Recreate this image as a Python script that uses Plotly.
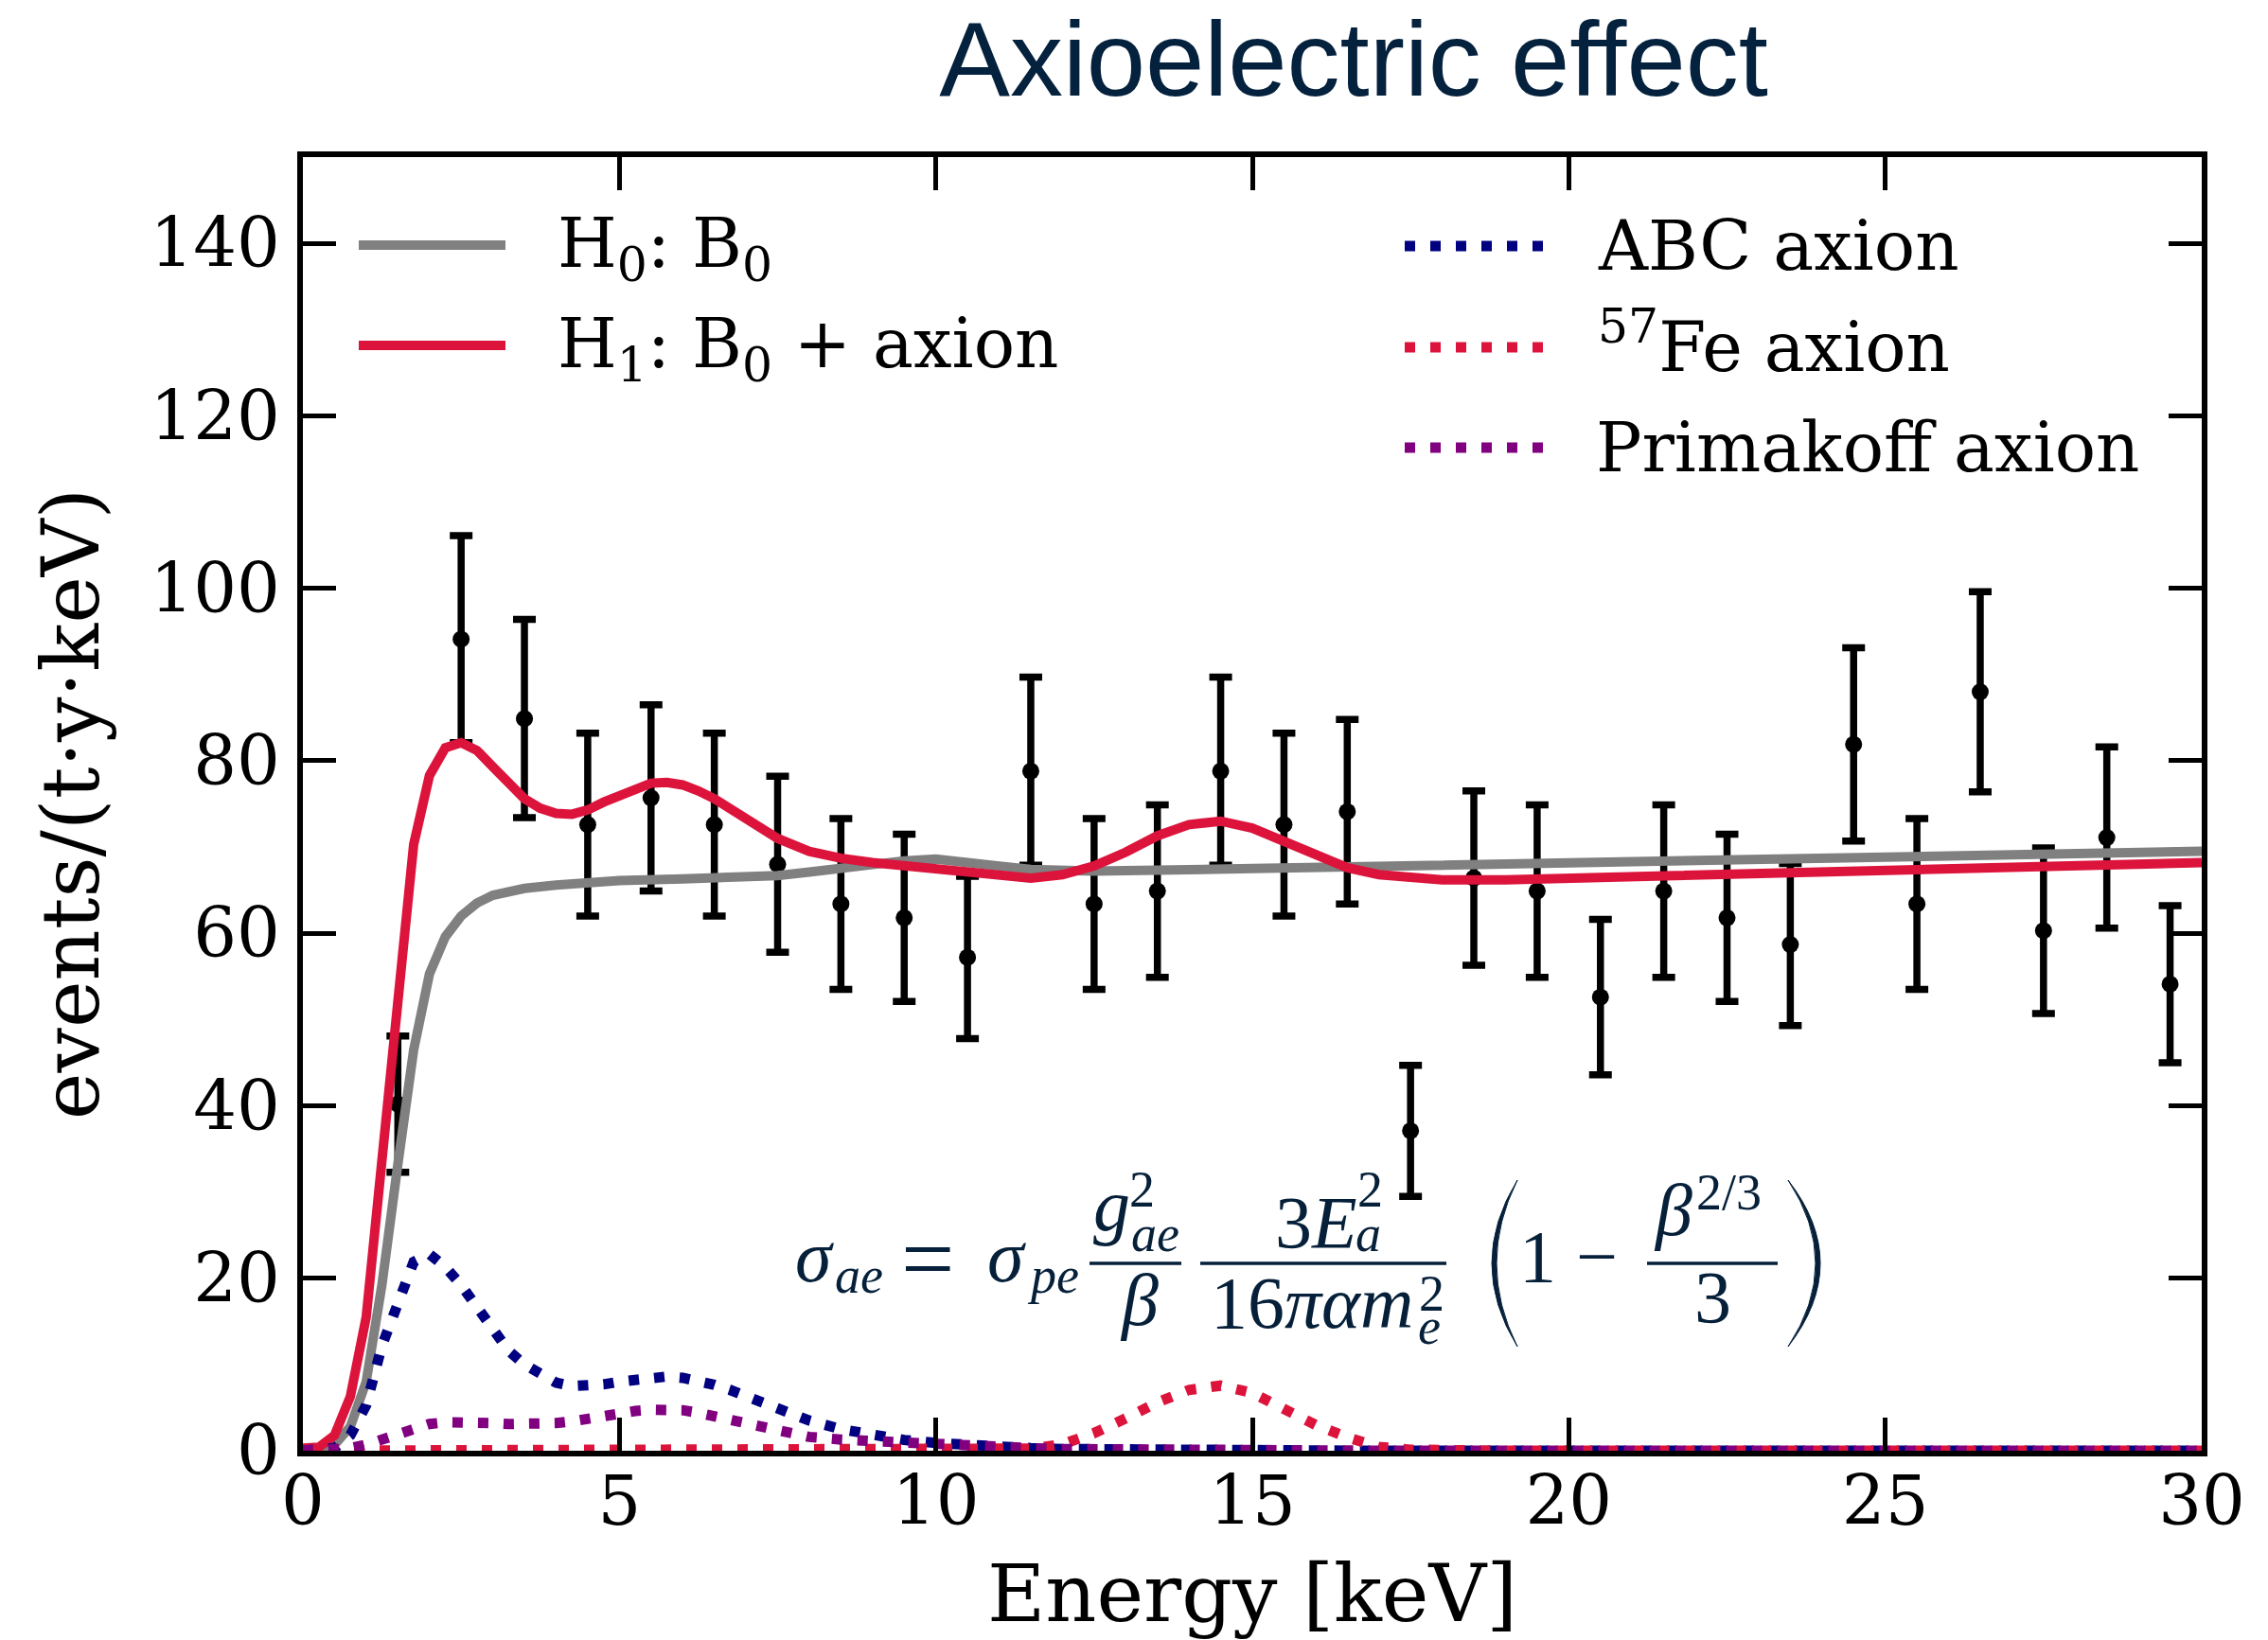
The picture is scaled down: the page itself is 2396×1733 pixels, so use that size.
import plotly.graph_objects as go

# ---------------- data ----------------
# binned event rates with statistical errors
bin_energy = [1.5, 2.5, 3.5, 4.5, 5.5, 6.5, 7.5, 8.5, 9.5, 10.5,
              11.5, 12.5, 13.5, 14.5, 15.5, 16.5, 17.5, 18.5, 19.5, 20.5,
              21.5, 22.5, 23.5, 24.5, 25.5, 26.5, 27.5, 28.5, 29.5]
bin_rate = [40.2, 94.1, 84.9, 72.6, 75.7, 72.6, 68.0, 63.4, 61.8, 57.2,
            78.8, 63.4, 64.9, 78.8, 72.6, 74.1, 37.1, 66.4, 64.9, 52.6,
            64.9, 61.8, 58.7, 81.9, 63.4, 88.0, 60.3, 71.1, 54.1]
bin_err = [7.9, 12.0, 11.5, 10.6, 10.8, 10.6, 10.2, 9.9, 9.7, 9.4,
           10.9, 9.9, 10.0, 10.9, 10.6, 10.7, 7.6, 10.1, 10.0, 9.0,
           10.0, 9.7, 9.4, 11.2, 9.9, 11.6, 9.6, 10.5, 9.1]

# background-only model (H0)
h0_energy = [0.0, 0.25, 0.5, 0.75, 1.0, 1.25, 1.5, 1.75, 2.0, 2.25,
             2.5, 2.75, 3.0, 3.5, 4.0, 4.5, 5.0, 6.0, 7.0, 7.5,
             8.0, 8.5, 9.0, 9.5, 10.0, 10.5, 11.0, 11.5, 12.0, 12.5,
             15.0, 20.0, 25.0, 30.0]
h0_rate = [0.2, 0.3, 0.7, 2.8, 8.0, 19.3, 33.2, 46.5, 55.3, 59.6,
           62.0, 63.5, 64.4, 65.2, 65.6, 65.9, 66.1, 66.3, 66.5, 66.7,
           67.1, 67.6, 68.1, 68.4, 68.6, 68.3, 67.8, 67.4, 67.2, 67.2,
           67.5, 68.2, 68.8, 69.5]

# background + axion model (H1)
h1_energy = [0.0, 0.25, 0.5, 0.75, 1.0, 1.25, 1.5, 1.75, 2.0, 2.25,
             2.5, 2.75, 3.0, 3.25, 3.5, 3.75, 4.0, 4.25, 4.5, 4.75,
             5.0, 5.25, 5.5, 5.75, 6.0, 6.25, 6.5, 7.0, 7.5, 8.0,
             8.5, 9.0, 9.5, 10.0, 10.5, 11.0, 11.5, 12.0, 12.5, 13.0,
             13.5, 14.0, 14.5, 15.0, 15.5, 16.0, 16.5, 17.0, 17.5, 18.0,
             19.0, 20.0, 25.0, 30.0]
h1_rate = [0.3, 0.4, 1.8, 6.3, 15.5, 33.5, 53.0, 70.3, 78.3, 81.5,
           82.1, 81.2, 79.3, 77.4, 75.6, 74.5, 73.9, 73.8, 74.3, 75.2,
           76.0, 76.8, 77.4, 77.5, 77.2, 76.5, 75.6, 73.3, 71.0, 69.5,
           68.7, 68.2, 67.8, 67.4, 67.0, 66.6, 66.4, 66.8, 67.8, 69.4,
           71.3, 72.6, 73.0, 72.2, 70.7, 69.0, 67.6, 66.8, 66.4, 66.2,
           66.2, 66.4, 67.3, 68.2]

# individual axion signal components
sig_energy = [0.0, 0.25, 0.5, 0.75, 1.0, 1.25, 1.5, 1.75, 2.0, 2.25,
              2.5, 2.75, 3.0, 3.25, 3.5, 3.75, 4.0, 4.25, 4.5, 4.75,
              5.0, 5.25, 5.5, 5.75, 6.0, 6.25, 6.5, 6.75, 7.0, 7.5,
              8.0, 8.5, 9.0, 9.5, 10.0, 10.5, 11.0, 11.5, 12.0, 12.5,
              13.0, 13.5, 14.0, 14.5, 15.0, 15.5, 16.0, 16.5, 17.0, 17.5,
              18.0, 19.0, 20.0, 25.0, 30.0]
abc_rate = [0.0, 0.05, 0.3, 1.8, 5.3, 12.2, 17.4, 21.9, 22.8, 21.3,
            19.2, 16.6, 13.9, 11.6, 10.0, 8.8, 7.9, 7.5, 7.5, 7.7,
            8.0, 8.3, 8.6, 8.6, 8.45, 8.1, 7.65, 7.05, 6.3, 4.75,
            3.5, 2.5, 1.8, 1.25, 0.9, 0.6, 0.4, 0.3, 0.2, 0.15,
            0.1, 0.08, 0.05, 0.04, 0.03, 0.02, 0.02, 0.01, 0.01, 0.0,
            0.0, 0.0, 0.0, 0.0, 0.0]
fe57_rate = [0.0, 0.0, 0.0, 0.0, 0.0, 0.0, 0.0, 0.0, 0.0, 0.0,
             0.0, 0.0, 0.0, 0.0, 0.0, 0.0, 0.0, 0.0, 0.0, 0.0,
             0.0, 0.0, 0.0, 0.0, 0.0, 0.0, 0.0, 0.0, 0.0, 0.0,
             0.0, 0.0, 0.0, 0.0, 0.0, 0.0, 0.05, 0.25, 0.75, 2.05,
             3.75, 5.6, 7.05, 7.55, 6.7, 4.9, 3.0, 1.55, 0.45, 0.12,
             0.03, 0.0, 0.0, 0.0, 0.0]
primakoff_rate = [0.0, 0.0, 0.1, 0.3, 0.7, 1.3, 2.0, 2.7, 3.1, 3.3,
                  3.35, 3.3, 3.2, 3.1, 3.05, 3.05, 3.2, 3.4, 3.75, 4.1,
                  4.4, 4.6, 4.75, 4.8, 4.7, 4.4, 4.0, 3.5, 3.0, 2.1,
                  1.6, 1.3, 1.1, 0.85, 0.7, 0.55, 0.4, 0.3, 0.2, 0.15,
                  0.1, 0.07, 0.05, 0.03, 0.02, 0.01, 0.01, 0.0, 0.0, 0.0,
                  0.0, 0.0, 0.0, 0.0, 0.0]

x_ticks = [0, 5, 10, 15, 20, 25, 30]
y_ticks = [0, 20, 40, 60, 80, 100, 120, 140]

# ---------------- styling ----------------
W, H = 2396, 1733
L, R, T, B = 320, 2326, 166, 1533          # plot-area edges in pixels
GRAY, CRIMSON, NAVY, PURPLE = "#808080", "#DC143C", "#000080", "#800080"
TITLE_COLOR = "#04213D"
EQ_COLOR = "#06203A"
SERIF = "DejaVu Serif"
EQ_FONT = "Liberation Serif"
SOLID_W = 10
DOT_W = 11
DOT = "11px,16px"


def px(xp):
    return (xp - L) / (R - L)


def py(yp):
    return (B - yp) / (B - T)


fig = go.Figure()

fig.add_trace(go.Scatter(
    x=bin_energy, y=bin_rate, mode="markers", showlegend=False,
    marker=dict(color="black", size=18),
    error_y=dict(type="data", array=bin_err, visible=True,
                 color="black", thickness=7.5, width=12),
))
fig.add_trace(go.Scatter(x=h0_energy, y=h0_rate, mode="lines", showlegend=False,
                         line=dict(color=GRAY, width=SOLID_W)))
fig.add_trace(go.Scatter(x=h1_energy, y=h1_rate, mode="lines", showlegend=False,
                         line=dict(color=CRIMSON, width=SOLID_W)))
for rate, col in ((abc_rate, NAVY), (fe57_rate, CRIMSON), (primakoff_rate, PURPLE)):
    fig.add_trace(go.Scatter(x=sig_energy, y=rate, mode="lines", showlegend=False,
                             line=dict(color=col, width=DOT_W, dash=DOT)))

annotations = []
shapes = []

# ---- legends (line sample + label) ----
LEG_SIZE = 72
legend_rows = [
    # label, line colour, dash, line x0, line x1, line y, text x, extra shift
    ("H<sub>0</sub>: B<sub>0</sub>", GRAY, "solid", 379, 534, 259, 587, 2.7),
    ("H<sub>1</sub>: B<sub>0</sub> + axion", CRIMSON, "solid", 379, 534, 365, 587, 2.7),
    ("ABC axion", NAVY, DOT, 1484, 1630, 260, 1686, 0),
    ("<sup>57</sup>Fe axion", CRIMSON, DOT, 1484, 1630, 367, 1686, -5),
    ("Primakoff axion", PURPLE, DOT, 1484, 1630, 473, 1684, 0),
]
for label, col, dash, x0, x1, ly, tx, shift in legend_rows:
    shapes.append(dict(type="line", xref="paper", yref="paper",
                       x0=px(x0), x1=px(x1), y0=py(ly), y1=py(ly),
                       line=dict(color=col, width=SOLID_W if dash == "solid" else DOT_W,
                                 dash=dash)))
    annotations.append(dict(text=label, x=px(tx), y=py(ly + shift), xref="paper", yref="paper",
                            xanchor="left", yanchor="middle", showarrow=False,
                            font=dict(family=SERIF, size=LEG_SIZE, color="black")))

# ---- axioelectric cross-section formula ----
ASC, DESC = 0.891, 0.216
BIG, SMALL, REL = 78, 54, 100
eq_terms = [
    # text, centre x, baseline y, size
    ("<i>σ</i>", 860, 1354, BIG),
    ("<i>ae</i>", 907, 1366, SMALL),
    ("=", 980, 1364, REL),
    ("<i>σ</i>", 1063, 1354, BIG),
    ("<i>pe</i>", 1112, 1366, SMALL),
    ("<i>g</i>", 1174, 1300, BIG),
    ("2", 1206, 1275, SMALL),
    ("<i>ae</i>", 1220, 1322, SMALL),
    ("<i>β</i>", 1203, 1400, BIG),
    ("3<i>E</i>", 1390, 1318, BIG),
    ("2", 1447, 1275, SMALL),
    ("<i>a</i>", 1445, 1322, SMALL),
    ("16<i>παm</i>", 1386, 1403, BIG),
    ("2", 1512, 1385, SMALL),
    ("<i>e</i>", 1510, 1420, SMALL),
    ("1", 1624, 1354, BIG),
    ("−", 1687, 1354, BIG),
    ("<i>β</i>", 1767, 1305, BIG),
    ("2/3", 1826, 1278, SMALL),
    ("3", 1809, 1397, BIG),
]
for txt, cx, base, size in eq_terms:
    cy = base - (ASC - DESC) / 2 * size
    annotations.append(dict(text=txt, x=px(cx), y=py(cy), xref="paper", yref="paper",
                            xanchor="center", yanchor="middle", showarrow=False,
                            font=dict(family=EQ_FONT, size=size, color=EQ_COLOR)))

# fraction bars
for x0, x1 in ((1151, 1248), (1268, 1528), (1740, 1878)):
    shapes.append(dict(type="line", xref="paper", yref="paper",
                       x0=px(x0), x1=px(x1), y0=py(1335), y1=py(1335),
                       line=dict(color=EQ_COLOR, width=3.3)))


def paren(x_end, x_outer, x_inner, y_top, y_bot):
    ym = (y_top + y_bot) / 2
    c_out = 2 * x_outer - x_end
    c_in = 2 * x_inner - x_end
    return (f"M {px(x_end)},{py(y_top)} Q {px(c_out)},{py(ym)} {px(x_end)},{py(y_bot)} "
            f"Q {px(c_in)},{py(ym)} {px(x_end)},{py(y_top)} Z")


for path in (paren(1603, 1576, 1581, 1247, 1423), paren(1889, 1923, 1918, 1247, 1423)):
    shapes.append(dict(type="path", xref="paper", yref="paper", path=path,
                       fillcolor=EQ_COLOR, line=dict(color=EQ_COLOR, width=1)))

axis_common = dict(
    showline=True, linecolor="black", linewidth=5.5, mirror="ticks",
    ticks="inside", ticklen=35, tickwidth=5, tickcolor="black",
    showgrid=False, zeroline=False, automargin=False,
    tickfont=dict(family=SERIF, size=72, color="black"),
)
AX_TITLE_FONT = dict(family=SERIF, size=84, color="black")

fig.update_layout(
    width=W, height=H,
    margin=dict(l=L, r=W - R, t=T, b=H - B, pad=0, autoexpand=False),
    paper_bgcolor="white", plot_bgcolor="white",
    showlegend=False,
    title=dict(text="Axioelectric effect",
               font=dict(family="Liberation Sans", size=112, color=TITLE_COLOR),
               x=1430 / W, xref="container", xanchor="center",
               y=1 - 61.5 / H, yref="container", yanchor="middle", automargin=False),
    xaxis=dict(range=[0, 30], tickvals=x_ticks, ticklabelstandoff=-14, domain=[0, 1],
               title=dict(text="Energy [keV]", font=AX_TITLE_FONT, standoff=38),
               **axis_common),
    yaxis=dict(range=[0, 150], tickvals=y_ticks, ticklabelstandoff=4, domain=[0, 1],
               title=dict(text="events/(t·y·keV)", font=AX_TITLE_FONT, standoff=28),
               **axis_common),
    annotations=annotations,
    shapes=shapes,
)

fig.write_html("out.html")
